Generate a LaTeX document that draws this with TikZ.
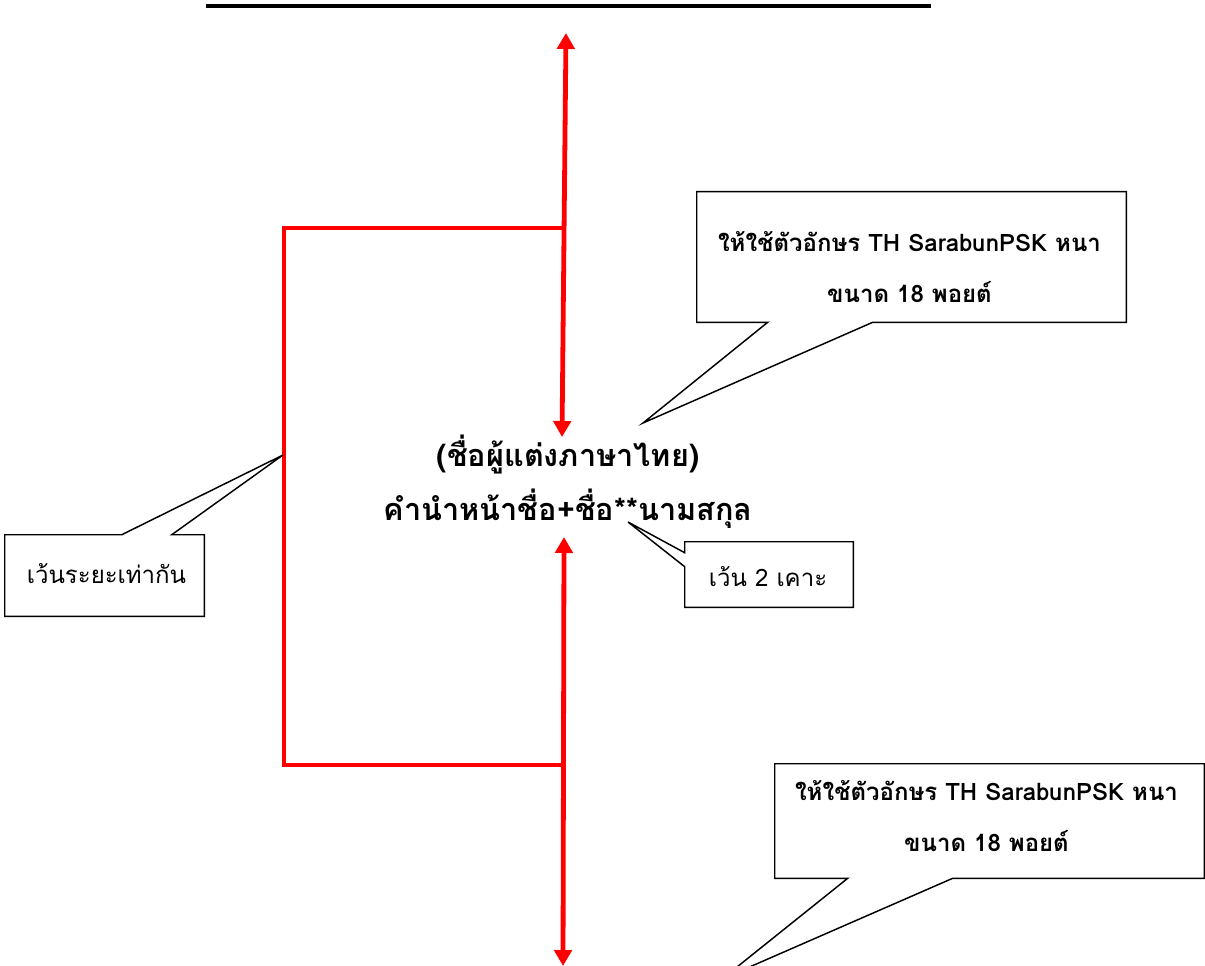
\documentclass[tikz,border=0pt]{standalone}
\usepackage{fontspec}
\usepackage{tikz}
\usetikzlibrary{arrows.meta,positioning,calc}
\newfontfamily\thaifont[Script=Thai]{Loma}
\definecolor{mark-red}{HTML}{FF0000}

\begin{document}
\begin{tikzpicture}[x=0.75pt, y=-0.75pt, node distance={40.5pt},
    redline/.style={draw=mark-red, line width=3.6pt},
    twoway/.style={redline, {Triangle[width=13pt,length=12pt]}-{Triangle[width=13pt,length=12pt]}},
    notebox/.style={rectangle, inner sep=0pt},
    outline/.style={draw, line width=1.1pt, fill=white},
    heading/.style={font=\thaifont\bfseries\fontsize{23}{27}\selectfont},
    bignote/.style={font=\thaifont\bfseries\fontsize{18}{38}\selectfont, align=center},
    smallnote/.style={font=\thaifont\fontsize{18}{21}\selectfont}]

    \useasboundingbox (0,0) rectangle (1205,966);
    \clip (0,0) rectangle (1205,966);

    \coordinate (ruleL) at (206,6);
    \coordinate (ruleR) at (931,6);
    \draw[line width=2.4pt] (ruleL) -- (ruleR);

    \node[heading] (thaiName) at (568,455) {(ชื่อผู้แต่งภาษาไทย)};
    \node[heading] (fullName) [below of=thaiName] {คำนำหน้าชื่อ+ชื่อ**นามสกุล};

    \coordinate (upTop) at (566,33);
    \coordinate (upBot) at (562,437);
    \coordinate (lowTop) at (564,537);
    \coordinate (lowBot) at (563,966);
    \coordinate (braceTR) at (564,228);
    \coordinate (braceTL) at (284,228);
    \coordinate (braceBL) at (284,765);
    \coordinate (braceBR) at (563,765);

    \draw[twoway] (upTop) -- (upBot);
    \draw[twoway] (lowTop) -- (lowBot);
    \draw[redline] (braceTR) -- (braceTL) -- (braceBL) -- (braceBR);

    \node[notebox, minimum width=321.75pt, minimum height=97.5pt] (fontNote) at (911.5,257) {};
    \coordinate (fontTip) at (643,423);
    \draw[outline] (fontNote.south west) -- (fontNote.north west) -- (fontNote.north east) -- (fontNote.south east)
        -- ($(fontNote.south west)+(176,0)$) -- (fontTip) -- ($(fontNote.south west)+(71,0)$) -- cycle;
    \node[bignote] (fontText) at ($(fontNote)+(-2,10)$) {ให้ใช้ตัวอักษร TH SarabunPSK หนา\\ขนาด 18 พอยต์};

    \node[notebox, minimum width=321.75pt, minimum height=85.5pt] (fontNoteB) at (989.5,821) {};
    \coordinate (fontTipB) at (722,979);
    \draw[outline] (fontNoteB.south west) -- (fontNoteB.north west) -- (fontNoteB.north east) -- (fontNoteB.south east)
        -- ($(fontNoteB.south west)+(178,0)$) -- (fontTipB) -- ($(fontNoteB.south west)+(73,0)$) -- cycle;
    \node[bignote] (fontTextB) at ($(fontNoteB)+(-3,-5)$) {ให้ใช้ตัวอักษร TH SarabunPSK หนา\\ขนาด 18 พอยต์};

    \node[notebox, minimum width=149.25pt, minimum height=60.75pt] (gapNote) at (104.5,575.5) {};
    \coordinate (gapTip) at (283,455);
    \draw[outline] (gapNote.north west) -- ($(gapNote.north west)+(117,0)$) -- (gapTip) -- ($(gapNote.north west)+(167,0)$)
        -- (gapNote.north east) -- (gapNote.south east) -- (gapNote.south west) -- cycle;
    \node[smallnote] (gapText) at ($(gapNote)+(2,-2)$) {เว้นระยะเท่ากัน};

    \node[notebox, minimum width=126pt, minimum height=48.75pt] (spaceNote) at (769,574.5) {};
    \coordinate (spaceTip) at (628,522);
    \draw[outline] (spaceNote.north west) -- (spaceNote.north east) -- (spaceNote.south east) -- (spaceNote.south west)
        -- ($(spaceNote.north west)+(0,25)$) -- (spaceTip) -- ($(spaceNote.north west)+(0,11)$) -- cycle;
    \node[smallnote] (spaceText) at ($(spaceNote)+(-1,2)$) {เว้น 2 เคาะ};

\end{tikzpicture}
\end{document}
